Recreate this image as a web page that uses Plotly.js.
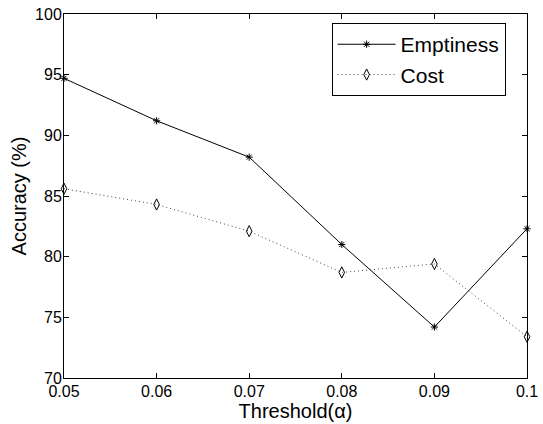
<!DOCTYPE html>
<html><head><meta charset="utf-8">
<script src="https://cdn.plot.ly/plotly-3.0.1.min.js"></script>
<style>html,body{margin:0;padding:0;background:#fff}#chart{width:543px;height:424px}</style>
</head><body><div id="chart"></div>
<script>
const thresholds = [0.05, 0.06, 0.07, 0.08, 0.09, 0.1];
const emptiness = [94.7, 91.2, 88.2, 81.0, 74.2, 82.3];
const cost = [85.6, 84.3, 82.1, 78.7, 79.4, 73.4];
const xTicks = [0.05, 0.06, 0.07, 0.08, 0.09, 0.1];
const xTickText = ['0.05', '0.06', '0.07', '0.08', '0.09', '0.1'];
const yTicks = [70, 75, 80, 85, 90, 95, 100];

const font = 'Liberation Sans, Arial, Helvetica, sans-serif';
const traces = [
  {x: thresholds, y: emptiness, name: 'Emptiness', mode: 'lines+markers', cliponaxis: false,
   line: {color: '#000', width: 1},
   marker: {symbol: 'asterisk-open', size: 6, color: '#000', line: {color: '#000', width: 1}}},
  {x: thresholds, y: cost, name: 'Cost', mode: 'lines+markers', cliponaxis: false,
   line: {color: '#444', width: 1, dash: '1px,3px'},
   marker: {symbol: 'diamond-tall-open', size: 8, color: '#000', line: {color: '#000', width: 1}}}
];
const axisCommon = {showgrid: false, zeroline: false, showline: true, linecolor: '#000', linewidth: 1,
  mirror: 'ticks', ticks: 'inside', ticklen: 5, tickcolor: '#000',
  tickfont: {family: font, size: 16, color: '#000'}};
const layout = {
  width: 543, height: 424,
  margin: {l: 64, r: 16, t: 14, b: 46},
  paper_bgcolor: '#fff', plot_bgcolor: '#fff',
  showlegend: true,
  legend: {x: 0.578, y: 0.975, xanchor: 'left', yanchor: 'top', bordercolor: '#000', borderwidth: 1,
    bgcolor: '#fff', font: {family: font, size: 21, color: '#000'}, itemwidth: 58, tracegroupgap: 0},
  xaxis: Object.assign({}, axisCommon, {range: [0.05, 0.1], tickvals: xTicks, ticktext: xTickText,
    ticklabelstandoff: -1,
    title: {text: 'Threshold(α)', font: {family: font, size: 20, color: '#000'}, standoff: 0}}),
  yaxis: Object.assign({}, axisCommon, {range: [70, 100], tickvals: yTicks, ticklabelstandoff: -2,
    title: {text: 'Accuracy (%)', font: {family: font, size: 20, color: '#000'}, standoff: 3}})
};
Plotly.newPlot('chart', traces, layout, {displayModeBar: false, staticPlot: true});
</script></body></html>
